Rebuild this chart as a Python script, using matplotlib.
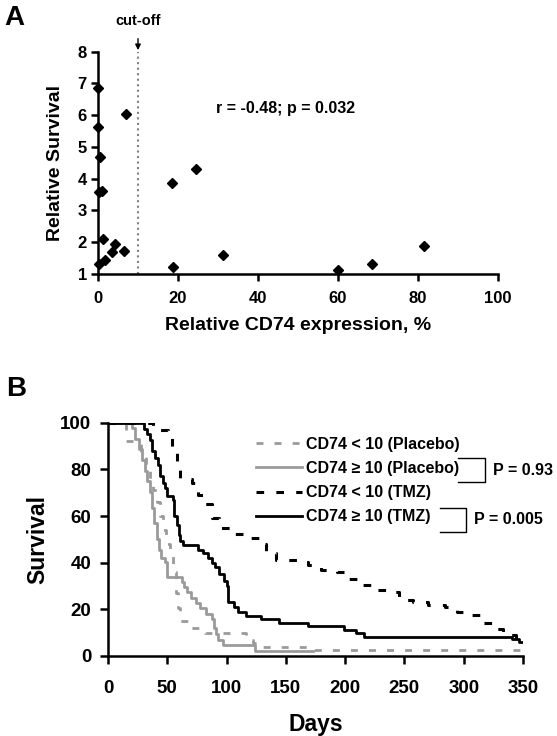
import matplotlib
matplotlib.use("Agg")
import matplotlib.pyplot as plt
from matplotlib.lines import Line2D

# ---------------- datos panel A (dispersion) ----------------
cd74_expr = [0.0, 0.0, 0.5, 0.3, 1.0, 6.9, 1.2, 0.3, 1.8, 4.3, 3.6, 6.5,
             18.6, 24.5, 18.8, 31.3, 60.1, 68.6, 81.4]
rel_surv = [6.85, 5.64, 4.69, 3.57, 3.60, 6.04, 2.10, 1.32, 1.44, 1.95, 1.68, 1.71,
            3.88, 4.31, 1.22, 1.59, 1.13, 1.30, 1.87]
cutoff = 10
ticks_xa = [0, 20, 40, 60, 80, 100]
ticks_ya = [1, 2, 3, 4, 5, 6, 7, 8]

# ---------------- datos panel B (Kaplan-Meier) ----------------
t_plc_lo = [0, 15, 28, 32, 35, 38, 41, 44, 46, 49, 52, 55, 57, 59, 61, 69, 82,
            116, 122, 130, 172, 350]
s_plc_lo = [100, 92, 88, 82, 76, 71, 66, 60, 54, 48, 44, 36, 27, 20.5, 15, 12, 10,
            7, 5.5, 4, 2.6, 2.6]

t_plc_hi = [0, 20, 23, 26, 29, 31, 33, 35, 37, 39, 41, 43, 45, 48, 50, 62, 64, 67,
            70, 74, 78, 83, 88, 89, 91, 93, 97, 124, 173]
s_plc_hi = [100, 97.7, 93.2, 88.6, 84.1, 79.5, 75, 70.5, 63.6, 56.8, 50, 45.5, 42,
            40.5, 34, 31.8, 29.5, 27.3, 25, 22.7, 20.5, 18.2, 15.9, 12, 9.5, 7, 4.7,
            2.0, 2.0]

t_tmz_lo = [0, 38, 51, 54, 58, 61, 71, 76, 82, 88, 94, 103, 120, 127, 133, 142, 162,
            169, 180, 193, 201, 211, 222, 236, 245, 257, 270, 284, 294, 306, 316, 324,
            333, 344, 350]
s_tmz_lo = [100, 97, 94, 88, 82.5, 76, 74, 69, 65, 59, 55, 52.5, 50.5, 48, 44, 41,
            40.5, 39, 37, 36, 33, 30.5, 28.5, 27.5, 24, 23, 21.7, 21, 18.8, 17.5, 14.3,
            11.4, 9, 5.2, 5.2]

t_tmz_hi = [0, 30, 33, 35, 37, 40, 42, 44, 46, 48, 50, 55, 56, 58, 60, 61, 63, 76,
            80, 84, 88, 90, 94, 98, 100, 101.5, 106, 110, 116, 129, 144, 169, 199, 209,
            216, 341, 347, 350]
s_tmz_hi = [100, 97.5, 95, 92.5, 88, 85, 82, 77, 74, 72, 68.5, 67, 60, 56, 52, 49.5,
            47.5, 45.5, 44, 42, 40, 38, 35, 32, 30, 23, 21, 19, 17, 16, 14.3, 12.9, 11.1,
            9.7, 8.3, 7.2, 6.2, 6.2]

ticks_xb = [0, 50, 100, 150, 200, 250, 300, 350]
ticks_yb = [0, 20, 40, 60, 80, 100]

etiquetas = ["CD74 < 10 (Placebo)", "CD74 \u2265 10 (Placebo)",
             "CD74 < 10 (TMZ)", "CD74 \u2265 10 (TMZ)"]

gris = "#9a9a9a"
params = {'font.family': ['Liberation Sans', 'DejaVu Sans'],
          'font.weight': 'bold',
          'axes.labelweight': 'bold',
          'axes.linewidth': 1.8,
          'xtick.major.width': 1.8,
          'ytick.major.width': 1.8}
matplotlib.rcParams.update(params)

fig = plt.figure(figsize=(5.57, 7.36), dpi=100, facecolor='w')
W, H = 557.0, 736.0

# ---------------- panel A ----------------
ax = fig.add_axes([98 / W, 1 - 274 / H, 400 / W, 222.3 / H])
ax.plot(cd74_expr, rel_surv, 'kD', markersize=5.5, linestyle='none', clip_on=False,
        zorder=5)
ax.axvline(cutoff, color='#808080', linestyle=':', linewidth=1.5)
ax.set_xlim(0, 100)
ax.set_ylim(1, 8)
ax.set_xticks(ticks_xa)
ax.set_yticks(ticks_ya)
ax.spines['top'].set_visible(False)
ax.spines['right'].set_visible(False)
ax.tick_params(axis='x', direction='out', length=5, pad=7, labelsize=12)
ax.tick_params(axis='y', direction='out', length=5, pad=3, labelsize=12)
ax.set_xlabel("Relative CD74 expression, %", fontsize=14, labelpad=8)
ax.set_ylabel("Relative Survival", fontsize=14, labelpad=10)
ax.text(29.5, 6.2, "r = -0.48; p = 0.032", fontsize=11.5, va='center', ha='left')
ax.annotate("cut-off", xy=(cutoff, 8.05), xytext=(cutoff, 8.98), ha='center',
            va='center', fontsize=10.5, annotation_clip=False,
            arrowprops=dict(arrowstyle='-|>', color='k', lw=1.0,
                            mutation_scale=8, shrinkA=6, shrinkB=0))

# ---------------- panel B ----------------
ax2 = fig.add_axes([108 / W, 1 - 656 / H, 415 / W, 233.3 / H])
ax2.step(t_plc_lo, s_plc_lo, where='post', color=gris, lw=2.0, dashes=(2.5, 4))
ax2.step(t_plc_hi, s_plc_hi, where='post', color=gris, lw=2.0)
ax2.step(t_tmz_lo, s_tmz_lo, where='post', color='k', lw=2.2, dashes=(2.5, 4))
ax2.step(t_tmz_hi, s_tmz_hi, where='post', color='k', lw=2.0)
ax2.set_xlim(0, 350)
ax2.set_ylim(0, 100)
ax2.set_xticks(ticks_xb)
ax2.set_yticks(ticks_yb)
ax2.spines['top'].set_visible(False)
ax2.spines['right'].set_visible(False)
ax2.tick_params(axis='x', direction='out', length=6, pad=11, labelsize=13.5)
ax2.tick_params(axis='y', direction='out', length=6, pad=6, labelsize=13.5)
ax2.set_xlabel("Days", fontsize=16.5, labelpad=12)
ax2.set_ylabel("Survival", fontsize=16.5, labelpad=8)

# leyenda
manejadores = [Line2D([], [], color=gris, lw=2.0, dashes=(2.5, 4)),
               Line2D([], [], color=gris, lw=2.0),
               Line2D([], [], color='k', lw=2.2, dashes=(2.5, 4)),
               Line2D([], [], color='k', lw=2.0)]
leg = ax2.legend(manejadores, etiquetas, loc='upper left',
                 bbox_to_anchor=(0.357, 0.94), frameon=False, fontsize=11.5,
                 handlelength=2.9, handletextpad=0.25, labelspacing=0.58,
                 borderaxespad=0, borderpad=0)

# corchetes de P
ax2.plot([295.5, 318.3, 318.3, 295.5], [84.7, 84.7, 74.7, 74.7], color='k', lw=1.0,
         clip_on=False)
ax2.text(324.8, 79.7, "P = 0.93", fontsize=11.5, va='center', ha='left')
ax2.plot([280.3, 302.3, 302.3, 280.3], [63.3, 63.3, 53.0, 53.0], color='k', lw=1.0,
         clip_on=False)
ax2.text(309, 58.3, "P = 0.005", fontsize=11.5, va='center', ha='left')

# letras de panel
fig.text(14 / W, 1 - 18 / H, "A", fontsize=20, ha='center', va='center')
fig.text(16 / W, 1 - 389 / H, "B", fontsize=20, ha='center', va='center')

plt.savefig("out.png", dpi=100)
